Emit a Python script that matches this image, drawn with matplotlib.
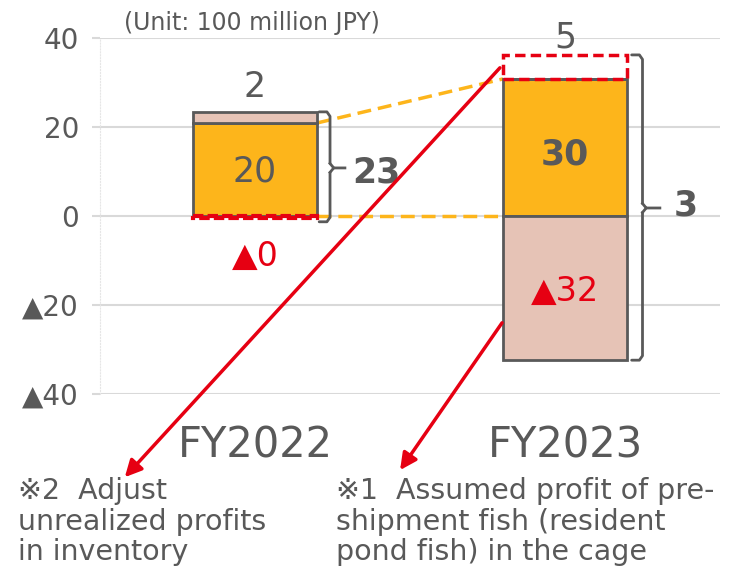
import matplotlib
matplotlib.use("Agg")
import matplotlib.pyplot as plt

plt.rcParams['font.family'] = ['DejaVu Sans', 'Noto Sans CJK JP']

# Data (unit: 100 million JPY)
years = ["FY2022", "FY2023"]
base_profit = [20.9, 30.8]          # orange
adjust_top = [2.5, 0.0]             # pink stacked on top (FY2022)
resident_fish = [-0.4, -32.4]       # pink/red dashed below zero
dashed_top = [0.0, 5.4]             # red dashed box on top (FY2023)

base_labels = ["20", "30"]
top_labels = ["2", "5"]
neg_labels = ["▲0", "▲32"]
total_labels = ["23", "3"]

y_ticks = [40, 20, 0, -20, -40]
y_tick_labels = ["40", "20", "0", "▲20", "▲40"]

note_left = "※2  Adjust\nunrealized profits\nin inventory"
note_right = "※1  Assumed profit of pre-\nshipment fish (resident\npond fish) in the cage"

ORANGE = "#FDB51B"
PINK = "#E6C3B6"
EDGE = "#595959"
RED = "#E60012"
TEXT = "#595959"
GRID = "#D9D9D9"

BAR_W = 0.4


def draw_brace(ax, x, y_top, y_bot, y_mid, x_tip):
    # right-facing curly brace drawn as a simple polyline
    hook = 0.035
    ax.plot([x - hook, x - 0.01, x, x], [y_top, y_top, y_top - 1.0, y_mid + 1.0],
            color=EDGE, lw=2, clip_on=False, solid_capstyle='round')
    ax.plot([x, x + 0.012, x_tip], [y_mid + 1.0, y_mid, y_mid],
            color=EDGE, lw=2, clip_on=False)
    ax.plot([x, x + 0.012], [y_mid - 1.0, y_mid], color=EDGE, lw=2, clip_on=False)
    ax.plot([x, x, x - 0.01, x - hook], [y_mid - 1.0, y_bot + 1.0, y_bot, y_bot],
            color=EDGE, lw=2, clip_on=False, solid_capstyle='round')


def main():
    fig = plt.figure(figsize=(7.35, 5.70), dpi=100)
    ax = fig.add_axes([100 / 735, (570 - 394) / 570, 620 / 735, 356 / 570])
    x = list(range(len(years)))

    # grid + axes styling
    ax.set_ylim(-40, 40)
    ax.set_xlim(-0.5, 1.5)
    ax.set_yticks(y_ticks)
    ax.set_yticklabels(y_tick_labels, fontsize=20, color=TEXT)
    ax.yaxis.grid(True, color=GRID, lw=1.5)
    ax.set_axisbelow(True)
    for s in ["top", "right", "bottom"]:
        ax.spines[s].set_visible(False)
    ax.spines["left"].set_color("#E6E6E6")
    ax.spines["left"].set_linestyle(":")
    ax.tick_params(axis='y', length=6, color=GRID, width=1.5, pad=9)
    ax.set_xticks(x)
    ax.set_xticklabels(years, fontsize=30, color=TEXT)
    ax.tick_params(axis='x', length=0, pad=22)

    # bars
    ax.bar(x, base_profit, width=BAR_W, color=ORANGE, edgecolor=EDGE, lw=2, zorder=3)
    ax.bar(x, adjust_top, bottom=base_profit, width=BAR_W, color=PINK,
           edgecolor=EDGE, lw=2, zorder=3)
    ax.bar(x[1], resident_fish[1], width=BAR_W, color=PINK, edgecolor=EDGE, lw=2, zorder=3)
    # red dashed placeholders
    ax.bar(x[0], resident_fish[0], width=BAR_W, fill=False, edgecolor=RED, lw=3,
           linestyle=(0, (2.5, 1)), zorder=4)
    ax.bar(x[1], dashed_top[1], bottom=base_profit[1], width=BAR_W, fill=False,
           edgecolor=RED, lw=2.5, linestyle=(0, (3, 1.5)), zorder=4)

    # orange dashed connectors
    ax.plot([x[0] + BAR_W / 2, x[1] - BAR_W / 2], [base_profit[0], base_profit[1]],
            color=ORANGE, lw=2.5, ls=(0, (4, 2)), zorder=2)
    ax.plot([x[0] + BAR_W / 2, x[1] - BAR_W / 2], [0, 0],
            color=ORANGE, lw=2.5, ls=(0, (4, 2)), zorder=2)

    # value labels
    ax.text(x[0], base_profit[0] / 2 - 0.5, base_labels[0], ha='center', va='center',
            fontsize=25, color=TEXT, zorder=5)
    ax.text(x[1], base_profit[1] / 2 - 1.5, base_labels[1], ha='center', va='center',
            fontsize=25, color=TEXT, fontweight='bold', zorder=5)
    ax.text(x[0], base_profit[0] + adjust_top[0] + 5.5, top_labels[0], ha='center',
            va='center', fontsize=25, color=TEXT)
    ax.text(x[1], base_profit[1] + dashed_top[1] + 4.0, top_labels[1], ha='center',
            va='center', fontsize=25, color=TEXT)
    ax.text(x[0], -9.0, neg_labels[0], ha='center', va='center', fontsize=24, color=RED)
    ax.text(x[1], -17.0, neg_labels[1], ha='center', va='center',
            fontsize=24, color=RED, zorder=5)

    # braces with totals
    draw_brace(ax, 0.242, base_profit[0] + adjust_top[0], -1.3, 10.8, 0.29)
    ax.text(0.39, 9.8, total_labels[0], ha='center', va='center', fontsize=25,
            color=TEXT, fontweight='bold')
    draw_brace(ax, 1.25, base_profit[1] + dashed_top[1], resident_fish[1], 1.8, 1.306)
    ax.text(1.39, 2.3, total_labels[1], ha='center', va='center', fontsize=25,
            color=TEXT, fontweight='bold', clip_on=False)

    # red arrows to the notes
    arrow = dict(arrowstyle='-|>', color=RED, lw=2.5, mutation_scale=25,
                 shrinkA=0, shrinkB=0)
    ax.annotate("", xy=(-0.42, -58.7), xytext=(0.79, 33.3), arrowprops=arrow,
                annotation_clip=False, zorder=6)
    ax.annotate("", xy=(0.468, -57.1), xytext=(0.797, -24.0), arrowprops=arrow,
                annotation_clip=False, zorder=6)

    # unit label and notes
    fig.text(252 / 735, 1 - 23 / 570, "(Unit: 100 million JPY)", ha='center',
             va='center', fontsize=17, color=TEXT)
    fig.text(18 / 735, 1 - 477 / 570, note_left, ha='left', va='top', fontsize=20.5,
             color=TEXT, linespacing=1.12)
    fig.text(336 / 735, 1 - 477 / 570, note_right, ha='left', va='top', fontsize=20.5,
             color=TEXT, linespacing=1.12)

    fig.savefig("out.png", dpi=100)
    plt.close(fig)


if __name__ == "__main__":
    main()
